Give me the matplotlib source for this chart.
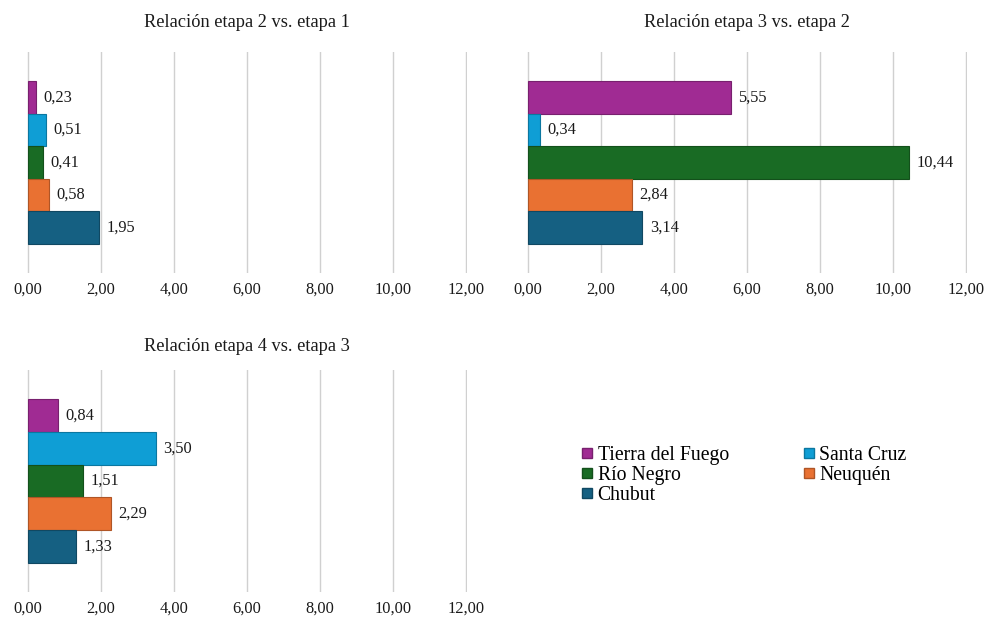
import matplotlib
matplotlib.use("Agg")
import matplotlib.pyplot as plt
from matplotlib.lines import Line2D
import numpy as np

plt.rcParams['font.family'] = ['Liberation Serif', 'DejaVu Serif']

# provinces, top to bottom as drawn
provinces = ['Tierra del Fuego', 'Santa Cruz', 'Río Negro', 'Neuquén', 'Chubut']
colors = ['#A02B93', '#0F9ED5', '#196B24', '#E97132', '#156082']

titles = ['Relación etapa 2 vs. etapa 1',
          'Relación etapa 3 vs. etapa 2',
          'Relación etapa 4 vs. etapa 3']
ratio_2_vs_1 = [0.23, 0.51, 0.41, 0.58, 1.95]
ratio_3_vs_2 = [5.55, 0.34, 10.44, 2.84, 3.14]
ratio_4_vs_3 = [0.84, 3.50, 1.51, 2.29, 1.33]
xticks = [0, 2, 4, 6, 8, 10, 12]

TXT = '#1a1a1a'


def darker(c, f=0.75):
    rgb = np.array(matplotlib.colors.to_rgb(c)) * f
    return tuple(rgb)


def fmt(v):
    return f'{v:.2f}'.replace('.', ',')


def draw_panel(ax, values, title, title_pad):
    n = len(values)
    group = 0.738
    h = group / n
    # first province on top
    ys = [group / 2 - h * (i + 0.5) for i in range(n)]
    ax.barh(ys, values, height=h, color=colors,
            edgecolor=[darker(c) for c in colors], linewidth=0.8, zorder=3)
    for y, v in zip(ys, values):
        ax.text(v + 0.2, y, fmt(v), va='center', ha='left',
                fontsize=11.8, color=TXT)
    ax.set_xlim(-0.02, 12.02)
    ax.set_ylim(-0.5, 0.5)
    ax.set_xticks(xticks)
    ax.set_xticklabels([fmt(t) for t in xticks], fontsize=11.8, color=TXT)
    ax.set_yticks([])
    ax.tick_params(axis='x', length=0, pad=6)
    ax.grid(axis='x', color='#D0D0D0', linewidth=1.0, zorder=0)
    for s in ax.spines.values():
        s.set_visible(False)
    ax.set_title(title, fontsize=13.2, color=TXT, pad=title_pad)


fig = plt.figure(figsize=(9.86, 6.19), dpi=100)
ax1 = fig.add_axes([0.0274, 0.559, 0.4462, 0.357])
ax2 = fig.add_axes([0.5345, 0.559, 0.4462, 0.357])
ax3 = fig.add_axes([0.0274, 0.0436, 0.4462, 0.3587])

draw_panel(ax1, ratio_2_vs_1, titles[0], 18)
draw_panel(ax2, ratio_3_vs_2, titles[1], 18)
draw_panel(ax3, ratio_4_vs_3, titles[2], 14)

# legend filled row-wise: T, SC / RN, N / C
handles = [Line2D([], [], marker='s', linestyle='none', markersize=7,
                  markerfacecolor=c, markeredgecolor=darker(c))
           for c in colors]
order = [0, 2, 4, 1, 3]
fig.legend([handles[i] for i in order], [provinces[i] for i in order],
           ncol=2, loc='upper left', bbox_to_anchor=(0.590, 0.280),
           frameon=False, fontsize=14.2, handlelength=0.5,
           handletextpad=0.3, columnspacing=3.8, labelspacing=0.05,
           borderaxespad=0, borderpad=0)

fig.savefig('out.png', dpi=100)
